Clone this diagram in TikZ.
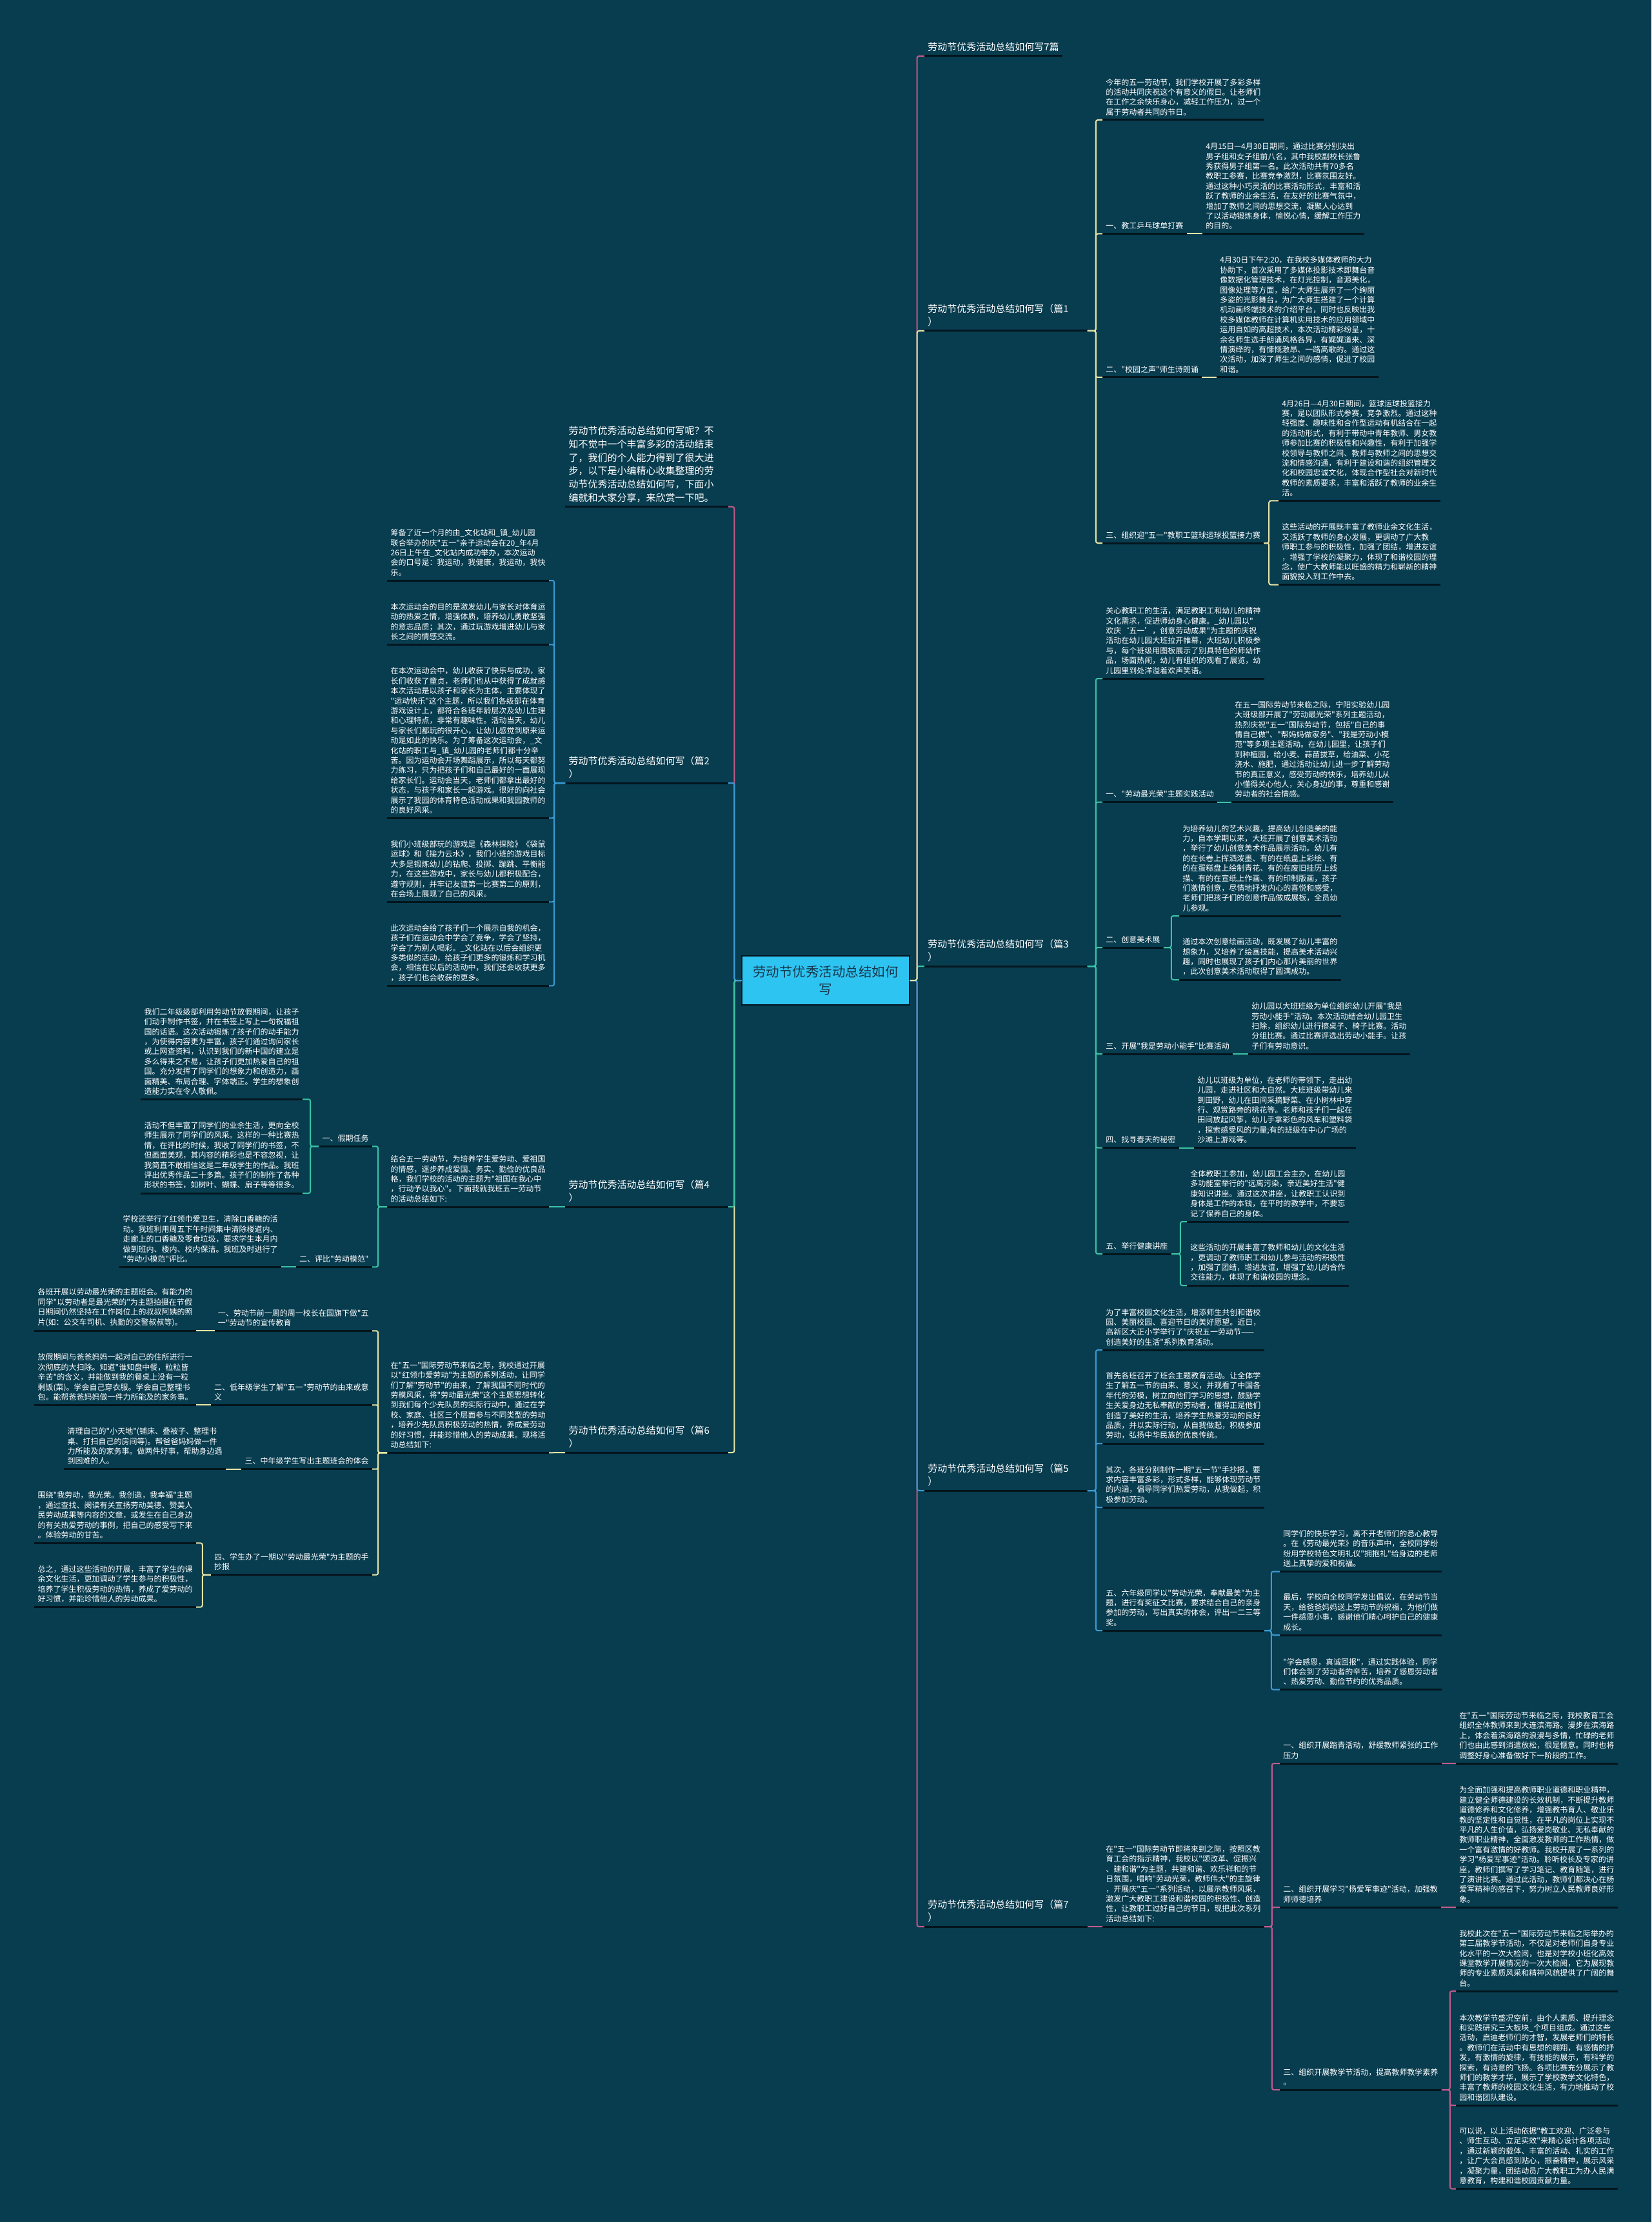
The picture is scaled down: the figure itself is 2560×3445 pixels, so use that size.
\documentclass[tikz,border=0pt]{standalone}
\usepackage{fontspec}
\newfontfamily\cjk{Noto Sans CJK SC}
\definecolor{bg}{HTML}{083C4F}
\definecolor{ulc}{HTML}{03151D}
\definecolor{pinkc}{HTML}{C45A8C}
\definecolor{yelc}{HTML}{E8E4A6}
\definecolor{tealc}{HTML}{3BC3A6}
\definecolor{bluec}{HTML}{3A9BD5}
\definecolor{rootc}{HTML}{2EC4F2}
\definecolor{roottxt}{HTML}{17374A}

\begin{document}
\begin{tikzpicture}[x=0.5pt, y=-0.5pt,
  uline/.style={draw=ulc, line width=1.5pt},
  txt/.style={font=\cjk\fontsize{6}{7.7}\selectfont, text=white, align=left,
              inner xsep=2.5pt, inner ysep=3.2pt,
              append after command={(\tikzlastnode.south west) edge[uline] (\tikzlastnode.south east)}},
  rtxt/.style={txt, anchor=south west},
  ltxt/.style={txt, anchor=south east},
  head/.style={font=\cjk\fontsize{7.5}{10.35}\selectfont},
  headw/.style={head, text width=121pt},
  link/.style={line width=1pt, rounded corners=1.5pt},
  root/.style={fill=rootc, draw=ulc, line width=0.6pt, text=roottxt, align=center,
               font=\cjk\fontsize{10.25}{13.5}\selectfont,
               minimum width=130pt, minimum height=38pt, inner sep=2pt}
]
\fill[bg] (0,0) rectangle (2560,3445);
\useasboundingbox (0,0) rectangle (2560,3445);

% centre
\node[root] (root) at (1280,1520) {劳动节优秀活动总结如何\\写};

% right side
\node[rtxt, head] (t0) at (1433,87) {劳动节优秀活动总结如何写7篇};
\node[rtxt, headw] (p1) at (1433,513) {劳动节优秀活动总结如何写（篇1\\）};
\node[rtxt, headw] (p3) at (1433,1498) {劳动节优秀活动总结如何写（篇3\\）};
\node[rtxt, headw] (p5) at (1433,2311) {劳动节优秀活动总结如何写（篇5\\）};
\node[rtxt, headw] (p7) at (1433,2987) {劳动节优秀活动总结如何写（篇7\\）};

% pian 1
\node[rtxt] (p1a) at (1709,186) {今年的五一劳动节，我们学校开展了多彩多样\\的活动共同庆祝这个有意义的假日。让老师们\\在工作之余快乐身心，减轻工作压力，过一个\\属于劳动者共同的节日。};
\node[rtxt] (p1b) at (1709,362.5) {一、教工乒乓球单打赛};
\node[rtxt] (p1b1) at (1864,362.5) {4月15日—4月30日期间，通过比赛分别决出\\男子组和女子组前八名，其中我校副校长张鲁\\秀获得男子组第一名。此次活动共有70多名\\教职工参赛，比赛竞争激烈，比赛氛围友好。\\通过这种小巧灵活的比赛活动形式，丰富和活\\跃了教师的业余生活，在友好的比赛气氛中，\\增加了教师之间的思想交流，凝聚人心达到\\了以活动锻炼身体，愉悦心情，缓解工作压力\\的目的。};
\node[rtxt] (p1c) at (1709,585) {二、"校园之声"师生诗朗诵};
\node[rtxt] (p1c1) at (1886,585) {4月30日下午2:20，在我校多媒体教师的大力\\协助下，首次采用了多媒体投影技术即舞台音\\像数据化管理技术，在灯光控制，音源美化，\\图像处理等方面，给广大师生展示了一个绚丽\\多姿的光影舞台，为广大师生搭建了一个计算\\机动画终端技术的介绍平台，同时也反映出我\\校多媒体教师在计算机实用技术的应用领域中\\运用自如的高超技术，本次活动精彩纷呈，十\\余名师生选手朗诵风格各异，有娓娓道来、深\\情演绎的，有慷慨激昂、一路高歌的。通过这\\次活动，加深了师生之间的感情，促进了校园\\和谐。};
\node[rtxt] (p1d) at (1709,842) {三、组织迎"五一"教职工篮球运球投篮接力赛};
\node[rtxt] (p1d1) at (1982,776.4) {4月26日—4月30日期间，篮球运球投篮接力\\赛，是以团队形式参赛，竞争激烈。通过这种\\轻强度、趣味性和合作型运动有机结合在一起\\的活动形式，有利于带动中青年教师、男女教\\师参加比赛的积极性和兴趣性，有利于加强学\\校领导与教师之间、教师与教师之间的思想交\\流和情感沟通，有利于建设和谐的组织管理文\\化和校园忠诚文化，体现合作型社会对新时代\\教师的素质要求，丰富和活跃了教师的业余生\\活。};
\node[rtxt] (p1d2) at (1982,906.6) {这些活动的开展既丰富了教师业余文化生活，\\又活跃了教师的身心发展，更调动了广大教\\师职工参与的积极性，加强了团结，增进友谊\\，增强了学校的凝聚力，体现了和谐校园的理\\念，使广大教师能以旺盛的精力和崭新的精神\\面貌投入到工作中去。};

% pian 3
\node[rtxt] (p3a) at (1709,1052) {关心教职工的生活，满足教职工和幼儿的精神\\文化需求，促进师幼身心健康。\_幼儿园以"\\欢庆‘五一’，创意劳动成果"为主题的庆祝\\活动在幼儿园大班拉开帷幕，大班幼儿积极参\\与，每个班级用图板展示了别具特色的师幼作\\品，场面热闹，幼儿有组织的观看了展览，幼\\儿园里到处洋溢着欢声笑语。};
\node[rtxt] (p3b) at (1709,1243.6) {一、"劳动最光荣"主题实践活动};
\node[rtxt] (p3b1) at (1909,1243.6) {在五一国际劳动节来临之际，宁阳实验幼儿园\\大班级部开展了"劳动最光荣"系列主题活动，\\热烈庆祝"五一"国际劳动节，包括"自己的事\\情自己做"、"帮妈妈做家务"、"我是劳动小模\\范"等多项主题活动。在幼儿园里，让孩子们\\到种植园，给小麦、蒜苗拔草，给油菜、小花\\浇水、施肥，通过活动让幼儿进一步了解劳动\\节的真正意义，感受劳动的快乐，培养幼儿从\\小懂得关心他人，关心身边的事，尊重和感谢\\劳动者的社会情感。};
\node[rtxt] (p3c) at (1709,1469) {二、创意美术展};
\node[rtxt] (p3c1) at (1828,1420) {为培养幼儿的艺术兴趣，提高幼儿创造美的能\\力，自本学期以来，大班开展了创意美术活动\\，举行了幼儿创意美术作品展示活动。幼儿有\\的在长卷上挥洒泼墨、有的在纸盘上彩绘、有\\的在蛋糕盘上绘制青花、有的在废旧挂历上线\\描、有的在宣纸上作画、有的印制版画，孩子\\们激情创意，尽情地抒发内心的喜悦和感受，\\老师们把孩子们的创意作品做成展板，全员幼\\儿参观。};
\node[rtxt] (p3c2) at (1828,1519) {通过本次创意绘画活动，既发展了幼儿丰富的\\想象力，又培养了绘画技能，提高美术活动兴\\趣，同时也展现了孩子们内心那片美丽的世界\\，此次创意美术活动取得了圆满成功。};
\node[rtxt] (p3d) at (1709,1634) {三、开展"我是劳动小能手"比赛活动};
\node[rtxt] (p3d1) at (1935,1634) {幼儿园以大班班级为单位组织幼儿开展"我是\\劳动小能手"活动。本次活动结合幼儿园卫生\\扫除，组织幼儿进行擦桌子、椅子比赛。活动\\分组比赛。通过比赛评选出劳动小能手。让孩\\子们有劳动意识。};
\node[rtxt] (p3e) at (1709,1779.5) {四、找寻春天的秘密};
\node[rtxt] (p3e1) at (1851,1779.5) {幼儿以班级为单位，在老师的带领下，走出幼\\儿园，走进社区和大自然。大班班级带幼儿来\\到田野，幼儿在田间采摘野菜、在小树林中穿\\行、观赏路旁的桃花等。老师和孩子们一起在\\田间放起风筝，幼儿手拿彩色的风车和塑料袋\\，探索感受风的力量;有的班级在中心广场的\\沙滩上游戏等。};
\node[rtxt] (p3f) at (1709,1944) {五、举行健康讲座};
\node[rtxt] (p3f1) at (1840,1894) {全体教职工参加，幼儿园工会主办，在幼儿园\\多功能室举行的"远离污染，亲近美好生活"健\\康知识讲座。通过这次讲座，让教职工认识到\\身体是工作的本钱，在平时的教学中，不要忘\\记了保养自己的身体。};
\node[rtxt] (p3f2) at (1840,1993) {这些活动的开展丰富了教师和幼儿的文化生活\\，更调动了教师职工和幼儿参与活动的积极性\\，加强了团结，增进友谊，增强了幼儿的合作\\交往能力，体现了和谐校园的理念。};

% pian 5
\node[rtxt] (p5a) at (1709,2093) {为了丰富校园文化生活，增添师生共创和谐校\\园、美丽校园、喜迎节日的美好愿望。近日，\\高新区大正小学举行了"庆祝五一劳动节——\\创造美好的生活"系列教育活动。};
\node[rtxt] (p5b) at (1709,2238) {首先各班召开了班会主题教育活动。让全体学\\生了解五一节的由来、意义，并观看了中国各\\年代的劳模，树立向他们学习的思想，鼓励学\\生关爱身边无私奉献的劳动者，懂得正是他们\\创造了美好的生活，培养学生热爱劳动的良好\\品质，并以实际行动，从自我做起，积极参加\\劳动，弘扬中华民族的优良传统。};
\node[rtxt] (p5c) at (1709,2337) {其次，各班分别制作一期"五一节"手抄报，要\\求内容丰富多彩，形式多样，能够体现劳动节\\的内涵，倡导同学们热爱劳动，从我做起，积\\极参加劳动。};
\node[rtxt] (p5d) at (1709,2528) {五、六年级同学以"劳动光荣，奉献最美"为主\\题，进行有奖征文比赛，要求结合自己的亲身\\参加的劳动，写出真实的体会，评出一二三等\\奖。};
\node[rtxt] (p5d1) at (1984,2436.5) {同学们的快乐学习，离不开老师们的悉心教导\\。在《劳动最光荣》的音乐声中，全校同学纷\\纷用学校特色文明礼仪"拥抱礼"给身边的老师\\送上真挚的爱和祝福。};
\node[rtxt] (p5d2) at (1984,2535) {最后，学校向全校同学发出倡议，在劳动节当\\天，给爸爸妈妈送上劳动节的祝福，为他们做\\一件感恩小事，感谢他们精心呵护自己的健康\\成长。};
\node[rtxt] (p5d3) at (1984,2619.6) {"学会感恩，真诚回报"，通过实践体验，同学\\们体会到了劳动者的辛苦，培养了感恩劳动者\\、热爱劳动、勤俭节约的优秀品质。};

% pian 7
\node[rtxt] (p7a) at (1709,2987) {在"五一"国际劳动节即将来到之际，按照区教\\育工会的指示精神，我校以"颂改革、促振兴\\、建和谐"为主题，共建和谐、欢乐祥和的节\\日氛围，唱响"劳动光荣，教师伟大"的主旋律\\，开展庆"五一"系列活动，以展示教师风采，\\激发广大教职工建设和谐校园的积极性、创造\\性，让教职工过好自己的节日，现把此次系列\\活动总结如下:};
\node[rtxt] (p7b) at (1984,2734) {一、组织开展踏青活动，舒缓教师紧张的工作\\压力};
\node[rtxt] (p7b1) at (2257,2734) {在"五一"国际劳动节来临之际，我校教育工会\\组织全体教师来到大连滨海路。漫步在滨海路\\上，体会着滨海路的浪漫与多情，忙碌的老师\\们也由此感到消遣放松，很是惬意。同时也将\\调整好身心准备做好下一阶段的工作。};
\node[rtxt] (p7c) at (1984,2957) {二、组织开展学习"杨爱军事迹"活动，加强教\\师师德培养};
\node[rtxt] (p7c1) at (2257,2957) {为全面加强和提高教师职业道德和职业精神，\\建立健全师德建设的长效机制，不断提升教师\\道德修养和文化修养，增强教书育人、敬业乐\\教的坚定性和自觉性，在平凡的岗位上实现不\\平凡的人生价值，弘扬爱岗敬业、无私奉献的\\教师职业精神，全面激发教师的工作热情，做\\一个富有激情的好教师。我校开展了一系列的\\学习"杨爱军事迹"活动。聆听校长及专家的讲\\座，教师们撰写了学习笔记、教育随笔，进行\\了演讲比赛。通过此活动，教师们都决心在杨\\爱军精神的感召下，努力树立人民教师良好形\\象。};
\node[rtxt] (p7d) at (1984,3240) {三、组织开展教学节活动，提高教师教学素养\\。};
\node[rtxt] (p7d1) at (2257,3087) {我校此次在"五一"国际劳动节来临之际举办的\\第三届教学节活动，不仅是对老师们自身专业\\化水平的一次大检阅，也是对学校小班化高效\\课堂教学开展情况的一次大检阅，它为展现教\\师的专业素质风采和精神风貌提供了广阔的舞\\台。};
\node[rtxt] (p7d2) at (2257,3264) {本次教学节盛况空前，由个人素质、提升理念\\和实践研究三大板块\_个项目组成。通过这些\\活动，启迪老师们的才智，发展老师们的特长\\。教师们在活动中有思想的翱翔，有感情的抒\\发，有激情的旋律，有技能的展示，有科学的\\探索，有诗意的飞扬。各项比赛充分展示了教\\师们的教学才华，展示了学校教学文化特色，\\丰富了教师的校园文化生活，有力地推动了校\\园和谐团队建设。};
\node[rtxt] (p7d3) at (2257,3393.5) {可以说，以上活动依据"教工欢迎、广泛参与\\、师生互动、立足实效"来精心设计各项活动\\，通过新颖的载体、丰富的活动、扎实的工作\\，让广大会员感到贴心，振奋精神，展示风采\\，凝聚力量，团结动员广大教职工为办人民满\\意教育，构建和谐校园贡献力量。};

% left side
\node[ltxt, headw] (intro) at (1129,785.7) {劳动节优秀活动总结如何写呢？不\\知不觉中一个丰富多彩的活动结束\\了，我们的个人能力得到了很大进\\步，以下是小编精心收集整理的劳\\动节优秀活动总结如何写，下面小\\编就和大家分享，来欣赏一下吧。};
\node[ltxt, headw] (p2) at (1129,1214) {劳动节优秀活动总结如何写（篇2\\）};
\node[ltxt, headw] (p4) at (1129,1871) {劳动节优秀活动总结如何写（篇4\\）};
\node[ltxt, headw] (p6) at (1129,2252) {劳动节优秀活动总结如何写（篇6\\）};

% pian 2
\node[ltxt] (p2a) at (851,900) {筹备了近一个月的由\_文化站和\_镇\_幼儿园\\联合举办的庆"五一"亲子运动会在20\_年4月\\26日上午在\_文化站内成功举办，本次运动\\会的口号是：我运动，我健康，我运动，我快\\乐。};
\node[ltxt] (p2b) at (851,999.3) {本次运动会的目的是激发幼儿与家长对体育运\\动的热爱之情，增强体质，培养幼儿勇敢坚强\\的意志品质；其次，通过玩游戏增进幼儿与家\\长之间的情感交流。};
\node[ltxt] (p2c) at (851,1268.3) {在本次运动会中，幼儿收获了快乐与成功，家\\长们收获了童贞，老师们也从中获得了成就感\\本次活动是以孩子和家长为主体，主要体现了\\"运动快乐"这个主题，所以我们各级部在体育\\游戏设计上，都符合各班年龄层次及幼儿生理\\和心理特点，非常有趣味性。活动当天，幼儿\\与家长们都玩的很开心，让幼儿感觉到原来运\\动是如此的快乐。为了筹备这次运动会，\_文\\化站的职工与\_镇\_幼儿园的老师们都十分辛\\苦。因为运动会开场舞蹈展示，所以每天都努\\力练习，只为把孩子们和自己最好的一面展现\\给家长们。运动会当天，老师们都拿出最好的\\状态，与孩子和家长一起游戏。很好的向社会\\展示了我园的体育特色活动成果和我园教师的\\的良好风采。};
\node[ltxt] (p2d) at (851,1398.3) {我们小班级部玩的游戏是《森林探险》《袋鼠\\运球》和《接力云水》，我们小班的游戏目标\\大多是锻炼幼儿的钻爬、投掷、蹦跳、平衡能\\力，在这些游戏中，家长与幼儿都积极配合，\\遵守规则，并牢记友谊第一比赛第二的原则，\\在会场上展现了自己的风采。};
\node[ltxt] (p2e) at (851,1528.3) {此次运动会给了孩子们一个展示自我的机会，\\孩子们在运动会中学会了竞争，学会了坚持，\\学会了为别人喝彩。\_文化站在以后会组织更\\多类似的活动，给孩子们更多的锻炼和学习机\\会，相信在以后的活动中，我们还会收获更多\\，孩子们也会收获的更多。};

% pian 4
\node[ltxt] (p4a) at (851,1871) {结合五一劳动节，为培养学生爱劳动、爱祖国\\的情感，逐步养成爱国、务实、勤俭的优良品\\格，我们学校的活动的主题为"祖国在我心中\\，行动予以我心"。下面我就我班五一劳动节\\的活动总结如下:};
\node[ltxt] (p4b) at (577,1777.3) {一、假期任务};
\node[ltxt] (p4b1) at (469,1704.3) {我们二年级级部利用劳动节放假期间，让孩子\\们动手制作书签，并在书签上写上一句祝福祖\\国的话语。这次活动锻炼了孩子们的动手能力\\，为使得内容更为丰富，孩子们通过询问家长\\或上网查资料，认识到我们的新中国的建立是\\多么得来之不易，让孩子们更加热爱自己的祖\\国。充分发挥了同学们的想象力和创造力，画\\面精美、布局合理、字体端正。学生的想象创\\造能力实在令人敬佩。};
\node[ltxt] (p4b2) at (469,1850) {活动不但丰富了同学们的业余生活，更向全校\\师生展示了同学们的风采。这样的一种比赛热\\情，在评比的时候，我收了同学们的书签，不\\但画面美观，其内容的精彩也是不容忽视，让\\我简直不敢相信这是二年级学生的作品。我班\\评出优秀作品二十多篇。孩子们的制作了各种\\形状的书签，如树叶、蝴蝶、扇子等等很多。};
\node[ltxt] (p4c) at (577,1964.3) {二、评比"劳动模范"};
\node[ltxt] (p4c1) at (436,1964.3) {学校还举行了红领巾爱卫生，清除口香糖的活\\动。我班利用周五下午时间集中清除楼道内、\\走廊上的口香糖及零食垃圾，要求学生本月内\\做到班内、楼内、校内保洁。我班及时进行了\\"劳动小模范"评比。};

% pian 6
\node[ltxt] (p6a) at (851,2252.3) {在"五一"国际劳动节来临之际，我校通过开展\\以"红领巾爱劳动"为主题的系列活动，让同学\\们了解"劳动节"的由来，了解我国不同时代的\\劳模风采，将"劳动最光荣"这个主题思想转化\\到我们每个少先队员的实际行动中，通过在学\\校、家庭、社区三个层面参与不同类型的劳动\\，培养少先队员积极劳动的热情，养成爱劳动\\的好习惯，并能珍惜他人的劳动成果。现将活\\动总结如下:};
\node[ltxt] (p6b) at (577,2063.3) {一、劳动节前一周的周一校长在国旗下做"五\\一"劳动节的宣传教育};
\node[ltxt] (p6b1) at (304,2063.3) {各班开展以劳动最光荣的主题班会。有能力的\\同学"以劳动者是最光荣的"为主题拍摄在节假\\日期间仍然坚持在工作岗位上的叔叔阿姨的照\\片(如：公交车司机、执勤的交警叔叔等)。};
\node[ltxt] (p6c) at (577,2178.3) {二、低年级学生了解"五一"劳动节的由来或意\\义};
\node[ltxt] (p6c1) at (304,2178.3) {放假期间与爸爸妈妈一起对自己的住所进行一\\次彻底的大扫除。知道"谁知盘中餐，粒粒皆\\辛苦"的含义，并能做到我的餐桌上没有一粒\\剩饭(菜)。学会自己穿衣服。学会自己整理书\\包。能帮爸爸妈妈做一件力所能及的家务事。};
\node[ltxt] (p6d) at (577,2277.7) {三、中年级学生写出主题班会的体会};
\node[ltxt] (p6d1) at (350,2277.7) {清理自己的"小天地"(铺床、叠被子、整理书\\桌、打扫自己的房间等)。帮爸爸妈妈做一件\\力所能及的家务事。做两件好事，帮助身边遇\\到困难的人。};
\node[ltxt] (p6e) at (577,2441.7) {四、学生办了一期以"劳动最光荣"为主题的手\\抄报};
\node[ltxt] (p6e1) at (304,2392.3) {围绕"我劳动，我光荣。我创造，我幸福"主题\\，通过查找、阅读有关宣扬劳动美德、赞美人\\民劳动成果等内容的文章，或发生在自己身边\\的有关热爱劳动的事例，把自己的感受写下来\\。体验劳动的甘苦。};
\node[ltxt] (p6e2) at (304,2491.7) {总之，通过这些活动的开展，丰富了学生的课\\余文化生活，更加调动了学生参与的积极性，\\培养了学生积极劳动的热情，养成了爱劳动的\\好习惯，并能珍惜他人的劳动成果。};

% connectors from the centre
\foreach \n/\c in {t0/pinkc, p7/pinkc, p5/bluec, p3/tealc, p1/yelc}
  \draw[link, draw=\c] (root.east) -- ++(11,0) |- (\n.south west);
\foreach \n/\c in {intro/pinkc, p6/yelc, p4/tealc, p2/bluec}
  \draw[link, draw=\c] (root.west) -- ++(-11,0) |- (\n.south east);

% right branches
\foreach \n in {p1a,p1b,p1c,p1d}
  \draw[link, draw=yelc] (p1.south east) -- ++(13,0) |- (\n.south west);
\draw[link, draw=yelc] (p1b.south east) -- (p1b1.south west);
\draw[link, draw=yelc] (p1c.south east) -- (p1c1.south west);
\foreach \n in {p1d1,p1d2}
  \draw[link, draw=yelc] (p1d.south east) -- ++(8,0) |- (\n.south west);

\foreach \n in {p3a,p3b,p3c,p3d,p3e,p3f}
  \draw[link, draw=tealc] (p3.south east) -- ++(13,0) |- (\n.south west);
\draw[link, draw=tealc] (p3b.south east) -- (p3b1.south west);
\foreach \n in {p3c1,p3c2}
  \draw[link, draw=tealc] (p3c.south east) -- ++(12,0) |- (\n.south west);
\draw[link, draw=tealc] (p3d.south east) -- (p3d1.south west);
\draw[link, draw=tealc] (p3e.south east) -- (p3e1.south west);
\foreach \n in {p3f1,p3f2}
  \draw[link, draw=tealc] (p3f.south east) -- ++(14,0) |- (\n.south west);

\foreach \n in {p5a,p5b,p5c,p5d}
  \draw[link, draw=bluec] (p5.south east) -- ++(13,0) |- (\n.south west);
\foreach \n in {p5d1,p5d2,p5d3}
  \draw[link, draw=bluec] (p5d.south east) -- ++(11,0) |- (\n.south west);

\draw[link, draw=pinkc] (p7.south east) -- (p7a.south west);
\foreach \n in {p7b,p7c,p7d}
  \draw[link, draw=pinkc] (p7a.south east) -- ++(12,0) |- (\n.south west);
\draw[link, draw=pinkc] (p7b.south east) -- (p7b1.south west);
\draw[link, draw=pinkc] (p7c.south east) -- (p7c1.south west);
\foreach \n in {p7d1,p7d2,p7d3}
  \draw[link, draw=pinkc] (p7d.south east) -- ++(13,0) |- (\n.south west);

% left branches
\foreach \n in {p2a,p2b,p2c,p2d,p2e}
  \draw[link, draw=bluec] (p2.south west) -- ++(-17,0) |- (\n.south east);

\draw[link, draw=tealc] (p4.south west) -- (p4a.south east);
\foreach \n in {p4b,p4c}
  \draw[link, draw=tealc] (p4a.south west) -- ++(-14,0) |- (\n.south east);
\foreach \n in {p4b1,p4b2}
  \draw[link, draw=tealc] (p4b.south west) -- ++(-13,0) |- (\n.south east);
\draw[link, draw=tealc] (p4c.south west) -- (p4c1.south east);

\draw[link, draw=yelc] (p6.south west) -- (p6a.south east);
\foreach \n in {p6b,p6c,p6d,p6e}
  \draw[link, draw=yelc] (p6a.south west) -- ++(-14,0) |- (\n.south east);
\draw[link, draw=yelc] (p6b.south west) -- (p6b1.south east);
\draw[link, draw=yelc] (p6c.south west) -- (p6c1.south east);
\draw[link, draw=yelc] (p6d.south west) -- (p6d1.south east);
\foreach \n in {p6e1,p6e2}
  \draw[link, draw=yelc] (p6e.south west) -- ++(-13,0) |- (\n.south east);
\end{tikzpicture}
\end{document}
